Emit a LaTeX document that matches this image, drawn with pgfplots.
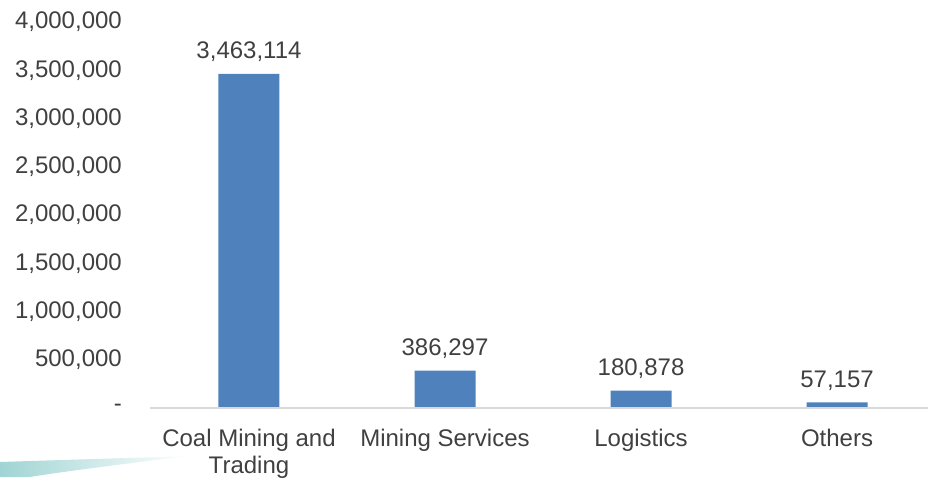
\documentclass[border=0pt]{standalone}
\usepackage{fontspec}
\setmainfont{Liberation Sans}
\usepackage{pgfplots}
\pgfplotsset{compat=1.18}
\definecolor{barblue}{HTML}{4F81BD}
\definecolor{txtgray}{HTML}{404040}
\definecolor{axgray}{HTML}{D9D9D9}
\definecolor{swoosh}{RGB}{160,212,212}

\begin{document}
\begin{tikzpicture}[x=1pt,y=1pt]
\fontsize{24}{27}\selectfont
% decorative swoosh bottom left
\shade[left color=swoosh, right color=white]
  (0,0) -- (0,15) .. controls (60,17) and (130,19) .. (190,21)
  .. controls (130,14) and (60,5) .. (30,0) -- cycle;
\begin{axis}[
    at={(150pt,69pt)}, anchor=south west,
    scale only axis, width=778pt, height=386pt,
    ybar, bar width=61pt,
    xmin=-0.505, xmax=3.464,
    ymin=0, ymax=4000000,
    scaled y ticks=false,
    axis line style={draw=none},
    ytick={0,500000,1000000,1500000,2000000,2500000,3000000,3500000,4000000},
    yticklabels={-,{500,000},{1,000,000},{1,500,000},{2,000,000},{2,500,000},{3,000,000},{3,500,000},{4,000,000}},
    xtick=data,
    xticklabels={{Coal Mining and\\Trading},{Mining Services},{Logistics},{Others}},
    major tick length=0pt,
    tick label style={font=\fontsize{24}{27}\selectfont, text=txtgray},
    yticklabel style={xshift=-20pt},
    xticklabel style={align=center, yshift=-13pt},
    nodes near coords={\pgfmathprintnumber[fixed,precision=0,1000 sep={,},assume math mode=true]{\pgfplotspointmeta}},
    every node near coord/.append style={font=\fontsize{24}{27}\selectfont, text=txtgray, yshift=4pt},
    clip=false,
    /pgf/number format/assume math mode=true,
    ]
\addplot[fill=barblue, draw=none] coordinates {(0,3463114) (1,386297) (2,180878) (3,57157)};
\draw[axgray, line width=2pt] (axis cs:-0.505,0) -- (axis cs:3.464,0);
\end{axis}
\pgfresetboundingbox
\path (0,0) rectangle (928,477);
\end{tikzpicture}
\end{document}
